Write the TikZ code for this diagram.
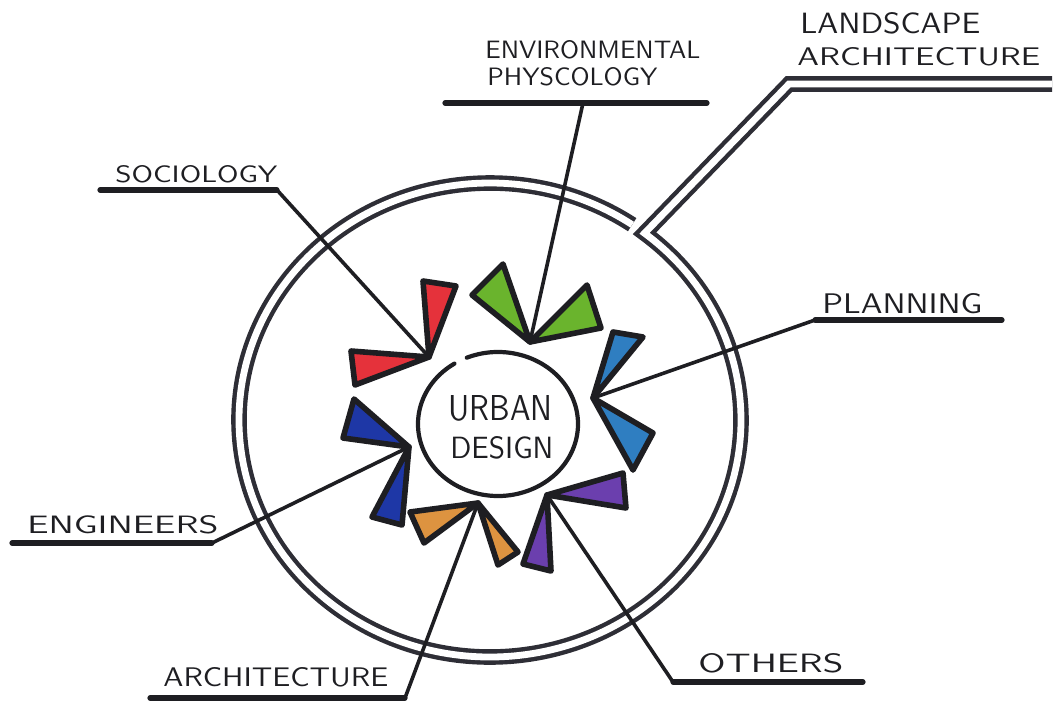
\documentclass[tikz,border=0pt]{standalone}
\usepackage{graphicx}
\usetikzlibrary{calc}
\definecolor{ink}{HTML}{1E1E22}
\definecolor{ringc}{HTML}{2E2E36}
\definecolor{cred}{HTML}{E5323B}
\definecolor{cgreen}{HTML}{6AB42D}
\definecolor{cblue}{HTML}{2F7EC1}
\definecolor{cnavy}{HTML}{1E37A6}
\definecolor{corange}{HTML}{DD9340}
\definecolor{cpurple}{HTML}{6B3FAE}
\newcommand\hw[3]{\resizebox{#1pt}{#2pt}{\sffamily #3}}
\tikzset{
  lbl/.style={anchor=base west, inner sep=0pt, text=ink},
  uline/.style={draw=ink, line width=2.6pt, line cap=round},
  leader/.style={draw=ink, line width=1.8pt, line cap=round},
  ringline/.style={draw=ringc, line width=2.2pt, double=white, double distance=3.4pt, line join=miter},
  tri/.style={draw=ink, line width=2.8pt, line join=round},
  innerc/.style={draw=ink, line width=2.1pt, line cap=round}
}
\begin{document}
\begin{tikzpicture}[x=0.5pt,y=-0.5pt]
\useasboundingbox (0,0) rectangle (1057,702);
% ---- outer double ring with landscape leader
\coordinate (C) at (490,420);
\coordinate (V) at ($(C)+(-52:251 and 237)$);
\coordinate (lsR) at (1052,84);
\coordinate (lsL) at (789,84);
\draw[ringline] (lsR) -- (lsL) -- (V) arc[start angle=-52, end angle=304.5, x radius=251, y radius=237];
% ---- apex coordinates
\coordinate (redA) at (429,357);
\coordinate (greenA) at (530,342);
\coordinate (blueA) at (593,398);
\coordinate (navyA) at (409,447);
\coordinate (orangeA) at (478,503);
\coordinate (purpleA) at (547,495);
% ---- labels
\node[lbl] (soc) at (115,182) {\hw{81}{8.5}{SOCIOLOGY}};
\node[lbl] (env1) at (485,58) {\hw{107.5}{9}{ENVIRONMENTAL}};
\node[lbl] (env2) at (487,85) {\hw{85}{9}{PHYSCOLOGY}};
\node[lbl] (land1) at (800,33) {\hw{90}{10.5}{LANDSCAPE}};
\node[lbl] (land2) at (797,65) {\hw{121.5}{9}{ARCHITECTURE}};
\node[lbl] (plan) at (822,313) {\hw{80}{10}{PLANNING}};
\node[lbl] (eng) at (27,533) {\hw{95.5}{9}{ENGINEERS}};
\node[lbl] (arch) at (163,686) {\hw{112.5}{9.5}{ARCHITECTURE}};
\node[lbl] (oth) at (698,672) {\hw{72.5}{9.5}{OTHERS}};
% ---- underlines
\coordinate (socL) at (100,190);  \coordinate (socR) at (277,190);
\coordinate (envL) at (445,103);  \coordinate (envR) at (707,103); \coordinate (envM) at (583,103);
\coordinate (planL) at (815,320); \coordinate (planR) at (1002,320);
\coordinate (engL) at (12,543);   \coordinate (engR) at (212,543);
\coordinate (archL) at (150,698); \coordinate (archR) at (405,698);
\coordinate (othL) at (673,682);  \coordinate (othR) at (863,682);
\draw[uline] (socL) -- (socR);
\draw[uline] (envL) -- (envR);
\draw[uline] (planL) -- (planR);
\draw[uline] (engL) -- (engR);
\draw[uline] (archL) -- (archR);
\draw[uline] (othL) -- (othR);
% ---- leaders
\draw[leader] (socR) -- (redA);
\draw[leader] (envM) -- (greenA);
\draw[leader] (planL) -- (blueA);
\draw[leader] (engR) -- (navyA);
\draw[leader] (archR) -- (orangeA);
\draw[leader] (othL) -- (purpleA);
% ---- triangles
\filldraw[tri, fill=cred] (redA) -- (423,281) -- (456,286) -- cycle;
\filldraw[tri, fill=cred] (redA) -- (351,351) -- (355,385) -- cycle;
\filldraw[tri, fill=cgreen] (greenA) -- (472,295) -- (503,264) -- cycle;
\filldraw[tri, fill=cgreen] (greenA) -- (587,285) -- (601,328) -- cycle;
\filldraw[tri, fill=cblue] (blueA) -- (613,332) -- (643,337) -- cycle;
\filldraw[tri, fill=cblue] (blueA) -- (653,433) -- (633,470) -- cycle;
\filldraw[tri, fill=cnavy] (navyA) -- (354,399) -- (343,438) -- cycle;
\filldraw[tri, fill=cnavy] (navyA) -- (402,525) -- (372,517) -- cycle;
\filldraw[tri, fill=corange] (orangeA) -- (410,512) -- (424,543) -- cycle;
\filldraw[tri, fill=corange] (orangeA) -- (518,552) -- (498,565) -- cycle;
\filldraw[tri, fill=cpurple] (purpleA) -- (623,473) -- (626,508) -- cycle;
\filldraw[tri, fill=cpurple] (purpleA) -- (523,564) -- (551,571) -- cycle;
% ---- centre
\coordinate (U) at (498,424);
\draw[innerc] ($(U)+(247:80 and 72)$) arc[start angle=247, end angle=597, x radius=80, y radius=72];
\node[lbl] (ud1) at (448,420) {\hw{52}{12.5}{URBAN}};
\node[lbl] (ud2) at (450,458) {\hw{51.5}{11}{DESIGN}};
\end{tikzpicture}
\end{document}
